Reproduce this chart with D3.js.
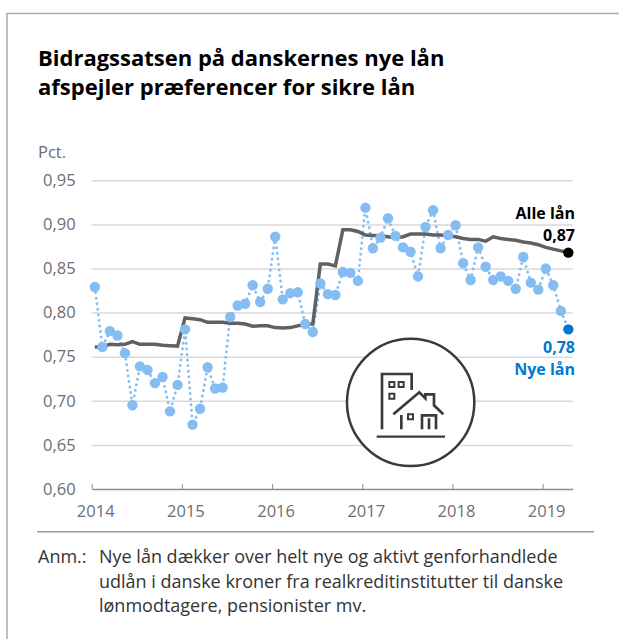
<!DOCTYPE html>
<html>
<head>
<meta charset="utf-8">
<script src="https://cdn.jsdelivr.net/npm/d3@7"></script>
<style>
  html, body { margin: 0; padding: 0; background: #fff; }
  text { font-family: "Open Sans", sans-serif; }
</style>
</head>
<body>
<div id="chart"></div>
<script>
// Monthly values, Jan 2014 - Apr 2019
const startYear = 2014;
const nyeLaan = [
  0.829, 0.761, 0.779, 0.774, 0.754, 0.695, 0.739, 0.735, 0.720, 0.727, 0.688, 0.718,
  0.781, 0.673, 0.691, 0.738, 0.714, 0.715, 0.795, 0.808, 0.810, 0.831, 0.812, 0.827,
  0.886, 0.815, 0.822, 0.823, 0.787, 0.778, 0.833, 0.821, 0.820, 0.846, 0.845, 0.836,
  0.919, 0.873, 0.885, 0.907, 0.887, 0.874, 0.869, 0.841, 0.897, 0.916, 0.873, 0.888,
  0.899, 0.856, 0.837, 0.874, 0.852, 0.837, 0.841, 0.836, 0.827, 0.863, 0.834, 0.826,
  0.850, 0.831, 0.802, 0.781
];
const alleLaan = [
  0.761, 0.761, 0.764, 0.7635, 0.764, 0.767, 0.764, 0.764, 0.764, 0.763, 0.7625, 0.762,
  0.794, 0.793, 0.792, 0.789, 0.789, 0.789, 0.788, 0.788, 0.787, 0.7845, 0.785, 0.785,
  0.783, 0.7825, 0.783, 0.785, 0.787, 0.787, 0.855, 0.855, 0.853, 0.894, 0.894, 0.892,
  0.888, 0.8875, 0.887, 0.886, 0.885, 0.886, 0.889, 0.889, 0.889, 0.888, 0.888, 0.887,
  0.886, 0.884, 0.883, 0.883, 0.881, 0.886, 0.884, 0.883, 0.882, 0.880, 0.879, 0.877,
  0.874, 0.872, 0.870, 0.868
];
const yTicks = [0.60, 0.65, 0.70, 0.75, 0.80, 0.85, 0.90, 0.95];
const xYears = [2014, 2015, 2016, 2017, 2018, 2019];
const titleLines = ["Bidragssatsen på danskernes nye lån", "afspejler præferencer for sikre lån"];
const noteLines = [
  "Nye lån dækker over helt nye og aktivt genforhandlede",
  "udlån i danske kroner fra realkreditinstitutter til danske",
  "lønmodtagere, pensionister mv."
];

const width = 619, height = 639;
const greyText = "#6e6e6e", gridColor = "#d9d9d9", lightBlue = "#85bdf3", darkBlue = "#0078d2";
const tickFont = 16.5;
const fmt = d => d.toFixed(2).replace(".", ",");

const svg = d3.select("#chart").append("svg")
  .attr("width", width)
  .attr("height", height)
  .style("display", "block");

// Outer frame: left and top only
svg.append("path")
  .attr("d", "M7,639V13.5H619")
  .attr("fill", "none")
  .attr("stroke", "#aaaaaa")
  .attr("stroke-width", 1.5);

// Title
svg.append("g").selectAll("text")
  .data(titleLines)
  .enter()
  .append("text")
  .attr("x", 38)
  .attr("y", (d, i) => 66 + i * 29)
  .attr("font-size", 22)
  .attr("font-weight", 700)
  .attr("fill", "#000")
  .text(d => d);

// Scales: x runs in months since Jan 2014
const x = d3.scaleLinear().domain([0, 64]).range([91.7, 572.7]);
const y = d3.scaleLinear().domain([0.60, 0.95]).range([489, 180.3]);
const xPoint = i => x(i + 0.42);

svg.append("text")
  .attr("x", 38)
  .attr("y", 158)
  .attr("font-size", tickFont)
  .attr("fill", greyText)
  .text("Pct.");

// Y axis with gridlines
const yAxis = svg.append("g")
  .attr("transform", "translate(91.7,0)")
  .call(d3.axisLeft(y).tickValues(yTicks).tickFormat(fmt).tickSize(0).tickPadding(16));
yAxis.select(".domain").remove();
yAxis.selectAll("text")
  .attr("font-size", tickFont)
  .attr("fill", greyText)
  .style("font-family", '"Open Sans", sans-serif');
yAxis.selectAll("line")
  .filter(d => d > 0.60)
  .attr("x2", x(64) - 91.7)
  .attr("stroke", gridColor)
  .attr("stroke-width", 1.5);

// Icon in a circle, decoration only
const icon = svg.append("g")
  .attr("transform", "translate(330,330) scale(0.3333)")
  .attr("fill", "none")
  .attr("stroke", "#3a3a3a");
icon.append("circle").attr("cx", 242).attr("cy", 217).attr("r", 191)
  .attr("fill", "#fff").attr("stroke-width", 7.5);
icon.append("path").attr("stroke-width", 7)
  .attr("d", "M140,320H345");
icon.append("path").attr("stroke-width", 8)
  .attr("d", "M156,298V132H245V180"
    + "M190,253L268,187L286,205V193H312V226L340,253"
    + "M214,255V298M276,298V256H318V298M297,265V298");
icon.append("path").attr("stroke-width", 6)
  .attr("d", "M178,156H193V171H178ZM206,156H221V171H206ZM178,191H193V206H178ZM234,253H249V268H234Z");

// X axis
const xAxis = svg.append("g")
  .attr("transform", "translate(0,489)")
  .call(d3.axisBottom(x)
    .tickValues(xYears.map(yr => (yr - startYear) * 12))
    .tickFormat(d => startYear + d / 12)
    .tickSize(-5)
    .tickPadding(12)
    .tickSizeOuter(0));
xAxis.select(".domain").attr("stroke", "#8c8c8c").attr("stroke-width", 1.5);
xAxis.selectAll("line").attr("stroke", "#8c8c8c").attr("stroke-width", 1);
xAxis.selectAll("text")
  .attr("font-size", tickFont)
  .attr("fill", greyText)
  .attr("dx", 3.5)
  .attr("dy", "0.95em")
  .style("font-family", '"Open Sans", sans-serif');

// Series
const lineGen = d3.line().x((d, i) => xPoint(i)).y(d => y(d));

svg.append("path")
  .datum(nyeLaan)
  .attr("d", lineGen)
  .attr("fill", "none")
  .attr("stroke", lightBlue)
  .attr("stroke-width", 2.8)
  .attr("stroke-linecap", "round")
  .attr("stroke-dasharray", "0.1 5.5");

svg.append("path")
  .datum(alleLaan)
  .attr("d", lineGen)
  .attr("fill", "none")
  .attr("stroke", "#606060")
  .attr("stroke-width", 3.5);

svg.append("g").selectAll("circle")
  .data(nyeLaan)
  .enter()
  .append("circle")
  .attr("cx", (d, i) => xPoint(i))
  .attr("cy", d => y(d))
  .attr("r", 5.2)
  .attr("fill", (d, i) => i === nyeLaan.length - 1 ? darkBlue : lightBlue);

svg.append("circle")
  .attr("cx", xPoint(alleLaan.length - 1))
  .attr("cy", y(alleLaan[alleLaan.length - 1]))
  .attr("r", 5.2)
  .attr("fill", "#000");

// End labels
const endLabels = [
  { text: "Alle lån", top: 219, color: "#000" },
  { text: fmt(alleLaan[alleLaan.length - 1]), top: 241, color: "#000" },
  { text: fmt(nyeLaan[nyeLaan.length - 1]), top: 353, color: darkBlue },
  { text: "Nye lån", top: 375, color: darkBlue }
];
svg.append("g").selectAll("text")
  .data(endLabels)
  .enter()
  .append("text")
  .attr("x", 575)
  .attr("y", d => d.top)
  .attr("text-anchor", "end")
  .attr("font-size", 16)
  .attr("font-weight", 700)
  .attr("fill", d => d.color)
  .text(d => d.text);

// Bottom rule and note
svg.append("line")
  .attr("x1", 37).attr("x2", 594)
  .attr("y1", 531.7).attr("y2", 531.7)
  .attr("stroke", "#999999")
  .attr("stroke-width", 1.5);

svg.append("text")
  .attr("x", 38)
  .attr("y", 563)
  .attr("font-size", 18)
  .attr("fill", "#333")
  .text("Anm.:");

svg.append("g").selectAll("text")
  .data(noteLines)
  .enter()
  .append("text")
  .attr("x", 99)
  .attr("y", (d, i) => 563 + i * 24.5)
  .attr("font-size", 18)
  .attr("fill", "#333")
  .text(d => d);
</script>
</body>
</html>
